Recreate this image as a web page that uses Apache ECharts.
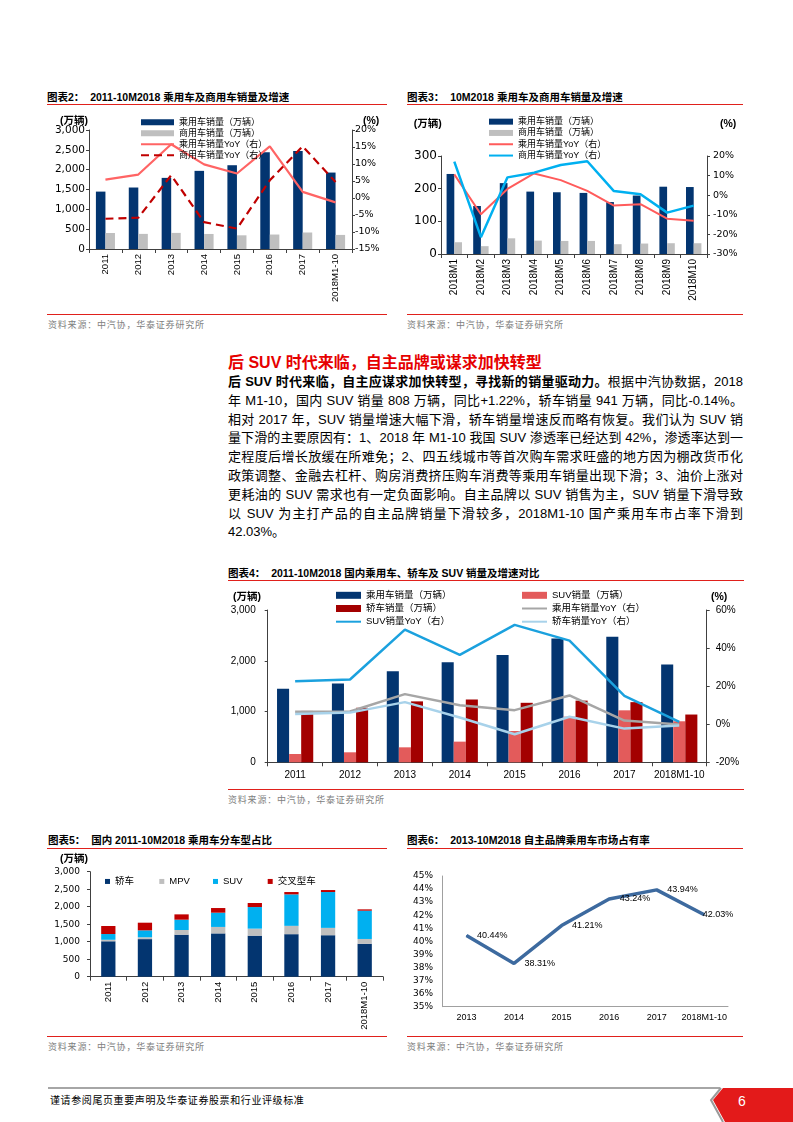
<!DOCTYPE html>
<html><head><meta charset="utf-8">
<script src="https://cdn.jsdelivr.net/npm/echarts@6/dist/echarts.min.js"></script>
<style>
body{margin:0;background:#fff;}
#page{position:relative;width:793px;height:1122px;overflow:hidden;background:#fff;font-family:"Liberation Sans","Noto Sans CJK SC",sans-serif;}
.abs{position:absolute;}
.ttl{position:absolute;font-size:10.5px;font-weight:bold;line-height:14px;white-space:nowrap;color:#000;}
.rl{position:absolute;height:1.5px;background:#E0201B;}
.src{position:absolute;font-size:9px;color:#808080;letter-spacing:0.8px;line-height:12px;white-space:nowrap;}
.chart{position:absolute;}
.ln{position:absolute;left:228px;width:515px;font-size:13px;line-height:18px;white-space:nowrap;text-align:justify;text-align-last:justify;color:#000;}
</style></head>
<body><div id="page">

<div class="ttl" style="left:47px;top:90px">图表2：&nbsp;&nbsp;2011-10M2018 乘用车及商用车销量及增速</div>
<div class="rl" style="left:47px;top:103.5px;width:340px"></div>
<div class="ttl" style="left:407px;top:90px">图表3：&nbsp;&nbsp;10M2018 乘用车及商用车销量及增速</div>
<div class="rl" style="left:407px;top:103.5px;width:336px"></div>
<div id="c2" class="chart" style="left:40px;top:108px;width:360px;height:204px"></div>
<div id="c3" class="chart" style="left:400px;top:108px;width:360px;height:204px"></div>
<div class="rl" style="left:47px;top:313.5px;width:340px"></div>
<div class="rl" style="left:407px;top:313.5px;width:336px"></div>
<div class="src" style="left:48px;top:319px">资料来源：中汽协，华泰证券研究所</div>
<div class="src" style="left:407px;top:319px">资料来源：中汽协，华泰证券研究所</div>

<div class="abs" style="left:228px;top:352px;font-size:16px;font-weight:bold;color:#E60000;line-height:22px;white-space:nowrap">后 SUV 时代来临，自主品牌或谋求加快转型</div>
<div class="ln" style="top:373px"><b>后 SUV 时代来临，自主应谋求加快转型，寻找新的销量驱动力。</b>根据中汽协数据，2018</div>
<div class="ln" style="top:391.8px">年 M1-10，国内 SUV 销量 808 万辆，同比+1.22%，轿车销量 941 万辆，同比-0.14%。</div>
<div class="ln" style="top:410.6px">相对 2017 年，SUV 销量增速大幅下滑，轿车销量增速反而略有恢复。我们认为 SUV 销</div>
<div class="ln" style="top:429.4px">量下滑的主要原因有：1、2018 年 M1-10 我国 SUV 渗透率已经达到 42%，渗透率达到一</div>
<div class="ln" style="top:448.2px">定程度后增长放缓在所难免；2、四五线城市等首次购车需求旺盛的地方因为棚改货币化</div>
<div class="ln" style="top:467px">政策调整、金融去杠杆、购房消费挤压购车消费等乘用车销量出现下滑；3、油价上涨对</div>
<div class="ln" style="top:485.8px">更耗油的 SUV 需求也有一定负面影响。自主品牌以 SUV 销售为主，SUV 销量下滑导致</div>
<div class="ln" style="top:504.6px">以 SUV 为主打产品的自主品牌销量下滑较多，2018M1-10 国产乘用车市占率下滑到</div>
<div class="ln" style="top:523.4px;text-align-last:left;text-align:left">42.03%。</div>

<div class="ttl" style="left:228px;top:566px">图表4：&nbsp;&nbsp;2011-10M2018 国内乘用车、轿车及 SUV 销量及增速对比</div>
<div class="rl" style="left:228px;top:579.5px;width:516px"></div>
<div id="c4" class="chart" style="left:225px;top:585px;width:560px;height:203px"></div>
<div class="rl" style="left:228px;top:788.5px;width:516px"></div>
<div class="src" style="left:228px;top:794px">资料来源：中汽协，华泰证券研究所</div>

<div class="ttl" style="left:48px;top:833px">图表5：&nbsp;&nbsp;国内 2011-10M2018 乘用车分车型占比</div>
<div class="rl" style="left:47px;top:847.5px;width:340px"></div>
<div class="ttl" style="left:407px;top:833px">图表6：&nbsp;&nbsp;2013-10M2018 自主品牌乘用车市场占有率</div>
<div class="rl" style="left:407px;top:847.5px;width:336px"></div>
<div id="c5" class="chart" style="left:40px;top:850px;width:360px;height:185px"></div>
<div id="c6" class="chart" style="left:400px;top:850px;width:360px;height:185px"></div>
<div class="rl" style="left:47px;top:1035.5px;width:340px"></div>
<div class="rl" style="left:407px;top:1035.5px;width:336px"></div>
<div class="src" style="left:48px;top:1041px">资料来源：中汽协，华泰证券研究所</div>
<div class="src" style="left:407px;top:1041px">资料来源：中汽协，华泰证券研究所</div>

<div class="abs" style="left:48px;top:1087px;width:672px;height:2px;background:#A6A6A6"></div>
<div class="abs" style="left:50px;top:1094px;font-size:10px;letter-spacing:0.6px;line-height:14px;color:#000;white-space:nowrap">谨请参阅尾页重要声明及华泰证券股票和行业评级标准</div>
<svg class="abs" style="left:700px;top:1086px" width="93" height="36">
<polyline points="21,2 11,14 23,36" fill="none" stroke="#9A9A9A" stroke-width="2"/>
<polygon points="23,2 13,14 25,36 93,36 93,2" fill="#E31A1A"/>
<text x="42" y="20" fill="#fff" font-size="14" font-family="Liberation Sans" text-anchor="middle">6</text>
</svg>
</div>

<script>
// ---------- data ----------
const years = ['2011','2012','2013','2014','2015','2016','2017','2018M1-10'];
const paxSales = [1447,1550,1793,1970,2112,2438,2472,1927];
const comSales = [403,381,406,379,345,365,416,355];
const paxYoY = [5.4,6.9,15.8,9.9,7.2,15.2,1.8,-1.3];
const comYoY = [-6.1,-5.8,6.7,-7.1,-9.0,5.2,15.2,4.7];

const months = ['2018M1','2018M2','2018M3','2018M4','2018M5','2018M6','2018M7','2018M8','2018M9','2018M10'];
const paxMonthly = [245,147,217,191,189,187,159,179,206,205];
const comMonthly = [36,24,48,41,40,40,30,32,33,33];
const paxMonthlyYoY = [10.6,-9.7,3.2,11.1,7.7,2.2,-5.3,-4.6,-12.0,-13.0];
const comMonthlyYoY = [17.1,-21.4,9.1,11.5,15.4,17.3,2.1,0.5,-8.9,-5.3];

const suvSales = [164,197,295,407,617,899,1024,808];
const sedanSales = [1012,1074,1200,1237,1172,1215,1185,941];
const paxYoY4 = [6.5,6.7,15.8,10.0,7.4,15.1,1.9,-0.2];
const suvYoY = [22.6,23.5,49.7,36.4,52.2,43.9,14.9,1.2];
const sedanYoY = [5.4,6.1,11.6,3.5,-5.3,3.9,-2.3,-0.7];

const mpvSales = [43,53,134,185,201,238,210,137];
const crossSales = [229,219,152,133,115,67,57,38];

const shareYears = ['2013','2014','2015','2016','2017','2018M1-10'];
const ownBrandShare = [40.44,38.31,41.21,43.24,43.94,42.03];

// ---------- styles ----------
const LAT = '"Liberation Sans", Arial, sans-serif';
const CJK = '"Liberation Sans", "Noto Sans CJK SC", sans-serif';
const WIDE = '"DejaVu Sans", sans-serif';
const NAVY = '#033570', GRAY = '#BFBFBF', AX = '#404040';
const fmtK = v => Number(v).toLocaleString('en-US');
const barItem = name => ({name:name, icon:'rect'});
const lineItem = name => ({name:name, itemStyle:{opacity:0}});

function axisCommon(extra) {
  return Object.assign({
    axisLine:{show:true, lineStyle:{color:AX, width:1}},
    axisTick:{show:true, length:3, lineStyle:{color:AX}},
    splitLine:{show:false}
  }, extra);
}
function unitText(x, y, text, align) {
  return {type:'text', x:x, y:y, style:{text:text, fill:'#000', fontSize:10.5, fontWeight:'bold', fontFamily:CJK, align:align, verticalAlign:'middle'}};
}

// ---------- chart 2 ----------
echarts.init(document.getElementById('c2')).setOption({
  animation:false,
  textStyle:{fontFamily:CJK},
  grid:{left:49, top:22, width:263, height:119, outerBoundsMode:'none'},
  legend:{orient:'vertical', left:100, top:8.8, padding:0, itemWidth:33, itemHeight:6, itemGap:0,
    textStyle:{fontSize:9, lineHeight:11, color:'#000', fontFamily:CJK},
    data:[barItem('乘用车销量（万辆）'), barItem('商用车销量（万辆）'), lineItem('乘用车销量YoY（右）'), lineItem('商用车销量YoY（右）')]},
  xAxis:{type:'category', data:years,
    axisLine:{lineStyle:{color:AX}}, axisTick:{show:true, interval:0, length:4, lineStyle:{color:AX}},
    axisLabel:{interval:0, rotate:90, fontSize:9.5, fontFamily:LAT, color:'#000', margin:5}},
  yAxis:[
    axisCommon({type:'value', min:0, max:3000, interval:500, axisLabel:{fontSize:10.5, fontFamily:WIDE, color:'#000', margin:4, formatter:fmtK}}),
    axisCommon({type:'value', min:-15, max:20, interval:5, position:'right', axisLabel:{fontSize:9.5, fontFamily:WIDE, color:'#000', margin:3, formatter:'{value}%'}})
  ],
  series:[
    {name:'乘用车销量（万辆）', type:'bar', data:paxSales, itemStyle:{color:NAVY}, barGap:'0%', barCategoryGap:'42%'},
    {name:'商用车销量（万辆）', type:'bar', data:comSales, itemStyle:{color:GRAY}},
    {name:'乘用车销量YoY（右）', type:'line', yAxisIndex:1, data:paxYoY, symbol:'none', lineStyle:{color:'#FF6464', width:2.2}, itemStyle:{color:'#FF6464'}},
    {name:'商用车销量YoY（右）', type:'line', yAxisIndex:1, data:comYoY, symbol:'none', lineStyle:{color:'#C00000', width:2.2, type:[8,5]}, itemStyle:{color:'#C00000'}}
  ],
  graphic:[unitText(48, 12.7, '(万辆)', 'right'), unitText(323, 12.7, '(%)', 'left')]
});

// ---------- chart 3 ----------
echarts.init(document.getElementById('c3')).setOption({
  animation:false,
  textStyle:{fontFamily:CJK},
  grid:{left:41, top:48, width:266, height:98, outerBoundsMode:'none'},
  legend:{orient:'vertical', left:88, top:8, padding:0, itemWidth:24, itemHeight:6, itemGap:0,
    textStyle:{fontSize:9, lineHeight:11.3, color:'#000', fontFamily:CJK},
    data:[barItem('乘用车销量（万辆）'), barItem('商用车销量（万辆）'), lineItem('乘用车销量YoY（右）'), lineItem('商用车销量YoY（右）')]},
  xAxis:{type:'category', data:months,
    axisLine:{lineStyle:{color:AX}}, axisTick:{show:true, interval:0, length:4, lineStyle:{color:AX}},
    axisLabel:{interval:0, rotate:90, fontSize:10, fontFamily:LAT, color:'#000', margin:5}},
  yAxis:[
    axisCommon({type:'value', min:0, max:300, interval:100, axisLabel:{fontSize:12, fontFamily:WIDE, color:'#000', margin:4}}),
    axisCommon({type:'value', min:-30, max:20, interval:10, position:'right', axisLabel:{fontSize:9.5, fontFamily:WIDE, color:'#000', margin:6, formatter:'{value}%'}})
  ],
  series:[
    {name:'乘用车销量（万辆）', type:'bar', data:paxMonthly, itemStyle:{color:NAVY}, barGap:'0%', barCategoryGap:'42%'},
    {name:'商用车销量（万辆）', type:'bar', data:comMonthly, itemStyle:{color:GRAY}},
    {name:'乘用车销量YoY（右）', type:'line', yAxisIndex:1, data:paxMonthlyYoY, symbol:'none', lineStyle:{color:'#FF5B5B', width:2}, itemStyle:{color:'#FF5B5B'}},
    {name:'商用车销量YoY（右）', type:'line', yAxisIndex:1, data:comMonthlyYoY, symbol:'none', lineStyle:{color:'#00B0F0', width:2.5}, itemStyle:{color:'#00B0F0'}}
  ],
  graphic:[unitText(41.7, 16.3, '(万辆)', 'right'), unitText(320, 16.3, '(%)', 'left')]
});

// ---------- chart 4 ----------
const c4legend = {orient:'vertical', top:3.7, padding:0, itemWidth:25, itemHeight:7, itemGap:0,
  textStyle:{fontSize:9.5, lineHeight:13.2, color:'#000', fontFamily:CJK}};
echarts.init(document.getElementById('c4')).setOption({
  animation:false,
  textStyle:{fontFamily:CJK},
  grid:{left:42.7, top:25, width:439, height:152.3, outerBoundsMode:'none'},
  legend:[
    Object.assign({left:110, data:[barItem('乘用车销量（万辆）'), barItem('轿车销量（万辆）'), lineItem('SUV销量YoY（右）')]}, c4legend),
    Object.assign({left:296, data:[barItem('SUV销量（万辆）'), lineItem('乘用车销量YoY（右）'), lineItem('轿车销量YoY（右）')]}, c4legend)
  ],
  xAxis:{type:'category', data:years,
    axisLine:{lineStyle:{color:AX}}, axisTick:{show:true, interval:0, length:4, lineStyle:{color:AX}},
    axisLabel:{interval:0, fontSize:10, fontFamily:LAT, color:'#000', margin:8}},
  yAxis:[
    axisCommon({type:'value', min:0, max:3000, interval:1000, axisLabel:{fontSize:10, fontFamily:LAT, color:'#000', margin:12, formatter:fmtK}}),
    axisCommon({type:'value', min:-20, max:60, interval:20, position:'right', axisLabel:{fontSize:10, fontFamily:LAT, color:'#000', margin:9, formatter:'{value}%'}})
  ],
  series:[
    {name:'乘用车销量（万辆）', type:'bar', data:paxSales, itemStyle:{color:NAVY}, barGap:'0%', barCategoryGap:'34%'},
    {name:'SUV销量（万辆）', type:'bar', data:suvSales, itemStyle:{color:'#E35B5B'}},
    {name:'轿车销量（万辆）', type:'bar', data:sedanSales, itemStyle:{color:'#A30000'}},
    {name:'乘用车销量YoY（右）', type:'line', yAxisIndex:1, data:paxYoY4, symbol:'none', lineStyle:{color:'#A6A6A6', width:2.5}, itemStyle:{color:'#A6A6A6'}},
    {name:'SUV销量YoY（右）', type:'line', yAxisIndex:1, data:suvYoY, symbol:'none', lineStyle:{color:'#1BA1DE', width:2.5}, itemStyle:{color:'#1BA1DE'}},
    {name:'轿车销量YoY（右）', type:'line', yAxisIndex:1, data:sedanYoY, symbol:'none', lineStyle:{color:'#A8D2EA', width:2.5}, itemStyle:{color:'#A8D2EA'}}
  ],
  graphic:[unitText(36, 12, '(万辆)', 'right'), unitText(486, 12, '(%)', 'left')]
});

// ---------- chart 5 ----------
const c5leg = (left, name) => ({left:left, top:26.7, padding:0, itemWidth:5, itemHeight:5, itemGap:0,
  textStyle:{fontSize:9.5, color:'#000', fontFamily:CJK}, data:[{name:name, icon:'rect'}]});
echarts.init(document.getElementById('c5')).setOption({
  animation:false,
  textStyle:{fontFamily:CJK},
  grid:{left:50, top:21.7, width:293, height:105, outerBoundsMode:'none'},
  legend:[c5leg(65,'轿车'), c5leg(119.3,'MPV'), c5leg(173,'SUV'), c5leg(227.7,'交叉型车')],
  xAxis:{type:'category', data:years,
    axisLine:{lineStyle:{color:AX}}, axisTick:{show:true, interval:0, length:4, lineStyle:{color:AX}},
    axisLabel:{interval:0, rotate:90, fontSize:9.5, fontFamily:LAT, color:'#000', margin:5}},
  yAxis:axisCommon({type:'value', min:0, max:3000, interval:500, axisLabel:{fontSize:9, fontFamily:WIDE, color:'#000', margin:10, formatter:fmtK}}),
  series:[
    {name:'轿车', type:'bar', stack:'t', data:sedanSales, itemStyle:{color:NAVY}, barCategoryGap:'61%'},
    {name:'MPV', type:'bar', stack:'t', data:mpvSales, itemStyle:{color:GRAY}},
    {name:'SUV', type:'bar', stack:'t', data:suvSales, itemStyle:{color:'#00B0F0'}},
    {name:'交叉型车', type:'bar', stack:'t', data:crossSales, itemStyle:{color:'#C00000'}}
  ],
  graphic:[unitText(48, 9.3, '(万辆)', 'right')]
});

// ---------- chart 6 ----------
const lastIdx = ownBrandShare.length - 1;
echarts.init(document.getElementById('c6')).setOption({
  animation:false,
  textStyle:{fontFamily:CJK},
  grid:{left:42.7, top:26, width:285.3, height:130.7, outerBoundsMode:'none'},
  xAxis:{type:'category', data:shareYears,
    axisLine:{lineStyle:{color:'#A0A0A0'}}, axisTick:{show:false},
    axisLabel:{interval:0, fontSize:9, fontFamily:LAT, color:'#000', margin:6}},
  yAxis:{type:'value', min:35, max:45, interval:1,
    axisLine:{show:true, lineStyle:{color:'#A0A0A0'}}, axisTick:{show:false}, splitLine:{show:false},
    axisLabel:{fontSize:9, fontFamily:WIDE, color:'#000', margin:9.7, formatter:'{value}%'}},
  series:[{type:'line', data:ownBrandShare.map((v,i) => i === lastIdx ? {value:v, label:{offset:[-12,0]}} : v),
    symbol:'circle', symbolSize:1, lineStyle:{color:'#3D6A9F', width:3.5}, itemStyle:{color:'#3D6A9F'},
    label:{show:true, position:'right', distance:10, fontSize:9, fontFamily:LAT, color:'#000',
      formatter: p => p.value.toFixed(2) + '%'}}]
});
</script>
</body></html>
